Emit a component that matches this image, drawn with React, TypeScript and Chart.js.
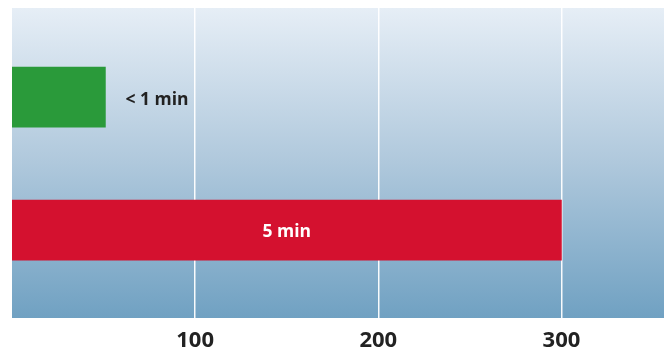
import React, { useEffect, useRef } from "react";
import { Chart, registerables } from "chart.js";

Chart.register(...registerables);

const categories = ["< 1 min", "5 min"];
const positions = [1, 2];
const values = [51, 300];
const barColors = ["#2a9a3a", "#d4112f"];
const labelColors = ["#222222", "#ffffff"];
const xTicks = [100, 200, 300];

const FONT = "'Open Sans', 'DejaVu Sans', sans-serif";

const bgPlugin = {
  id: "bgGradient",
  beforeDraw(chart: any) {
    const { ctx, chartArea } = chart;
    if (!chartArea) return;
    const g = ctx.createLinearGradient(0, chartArea.top, 0, chartArea.bottom);
    g.addColorStop(0, "#e6eef6");
    g.addColorStop(0.5, "#afc8dc");
    g.addColorStop(1, "#70a1c2");
    ctx.save();
    ctx.fillStyle = g;
    ctx.fillRect(chartArea.left, chartArea.top, chartArea.right - chartArea.left, chartArea.bottom - chartArea.top);
    ctx.restore();
  },
};

const labelPlugin = {
  id: "barLabels",
  afterDatasetsDraw(chart: any) {
    const { ctx } = chart;
    const meta = chart.getDatasetMeta(0);
    ctx.save();
    ctx.font = `bold 17.5px ${FONT}`;
    ctx.textBaseline = "middle";
    meta.data.forEach((bar: any, i: number) => {
      ctx.fillStyle = labelColors[i];
      if (i === 0) {
        ctx.textAlign = "left";
        ctx.fillText(categories[i], bar.x + 20, bar.y + 3);
      } else {
        ctx.textAlign = "center";
        ctx.fillText(categories[i], (bar.x + bar.base) / 2, bar.y + 2);
      }
    });
    ctx.restore();
  },
};

export default function App() {
  const ref = useRef<HTMLCanvasElement | null>(null);
  useEffect(() => {
    if (!ref.current) return;
    const chart = new Chart(ref.current, {
      type: "bar",
      data: {
        datasets: [
          {
            data: values.map((v, i) => ({ x: v, y: positions[i] })),
            backgroundColor: barColors,
            borderWidth: 0,
            barThickness: 60,
          },
        ],
      },
      options: {
        indexAxis: "y",
        animation: false,
        responsive: false,
        layout: { padding: { left: 12, top: 8, right: 0, bottom: 0 } },
        plugins: { legend: { display: false }, tooltip: { enabled: false } },
        scales: {
          x: {
            type: "linear",
            min: 0,
            max: 356,
            afterBuildTicks(scale: any) {
              scale.ticks = xTicks.map((v) => ({ value: v }));
            },
            afterFit(scale: any) {
              scale.height = 34;
            },
            grid: { color: "rgba(255,255,255,0.95)", lineWidth: 1.5, drawTicks: false },
            border: { display: false },
            ticks: {
              color: "#222222",
              font: { family: FONT, size: 22, weight: "bold" },
              padding: 10,
            },
          },
          y: {
            type: "linear",
            reverse: true,
            offset: false,
            min: 0.33,
            max: 2.66,
            display: false,
            grid: { offset: false },
          },
        },
      },
      plugins: [bgPlugin, labelPlugin],
    } as any);
    return () => chart.destroy();
  }, []);
  return (
    <div style={{ position: "absolute", left: 0, top: 0, width: 664, height: 352, background: "#fff" }}>
      <canvas ref={ref} width={664} height={352} style={{ width: 664, height: 352, display: "block" }} />
    </div>
  );
}
